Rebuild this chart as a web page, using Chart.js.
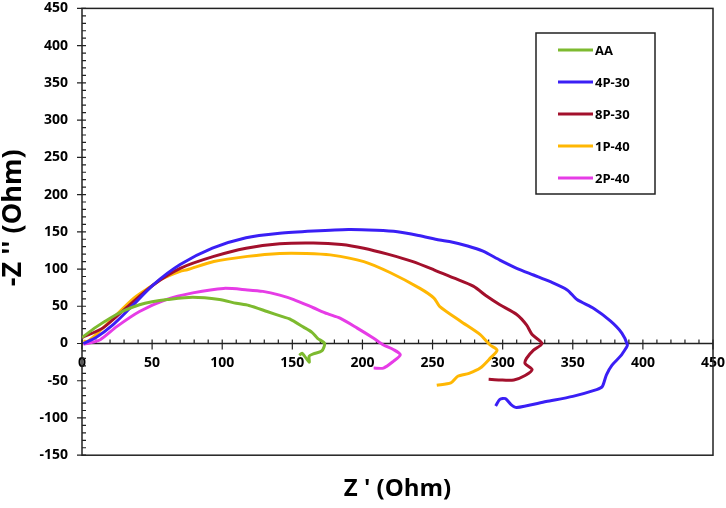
<!DOCTYPE html>
<html>
<head>
<meta charset="utf-8">
<script src="https://cdn.jsdelivr.net/npm/chart.js@4.4.1/dist/chart.umd.min.js"></script>
<style>
  html, body { margin: 0; padding: 0; background: #fff; }
  .wrap { width: 726px; height: 508px; }
</style>
</head>
<body>
<div class="wrap"><canvas class="js-chart" width="726" height="508"></canvas></div>
<script>
const ctx = document.querySelector(".js-chart").getContext("2d");

const SERIES_NAMES = ["AA", "4P-30", "8P-30", "1P-40", "2P-40"];
const SERIES_COLORS = ["#7dba2f", "#3a1ff5", "#a3102c", "#ffb703", "#e63ce6"];

const X_TICKS = [0, 50, 100, 150, 200, 250, 300, 350, 400, 450];
const Y_TICKS = [-150, -100, -50, 0, 50, 100, 150, 200, 250, 300, 350, 400, 450];

// Z' and -Z'', one pair of arrays per sample
const xAA = [0, 10, 20, 30, 41, 50, 61, 79, 98, 110, 119, 132, 143, 148, 158, 164, 168, 173, 171, 165, 162, 162, 157, 155];
const yAA = [8, 22, 34, 44, 52, 56, 59, 62, 59, 54, 51, 43, 36, 33, 22, 15, 7, 0, -10, -14, -17, -25, -13, -16];

const x4P30 = [1, 10, 22, 34, 51, 70, 93, 117, 141, 165, 190, 210, 225, 240, 255, 262, 275, 286, 298, 310, 322, 334, 346, 353, 365, 377, 385, 389, 388, 384, 378, 374, 371, 367, 350, 331, 310, 306, 302, 298, 295];
const y4P30 = [0, 8, 25, 47, 79, 106, 128, 142, 148, 151, 153, 152, 150, 145, 139, 137, 131, 124, 112, 101, 92, 83, 72, 59, 47, 30, 14, -2, -6, -17, -29, -42, -58, -62, -71, -78, -86, -82, -74, -75, -84];

const x8P30 = [0, 15, 34, 51, 70, 94, 117, 141, 165, 185, 201, 218, 236, 251, 265, 279, 289, 298, 310, 317, 321, 328, 322, 317, 316, 321, 316, 308, 298, 290];
const y8P30 = [8, 21, 52, 79, 101, 117, 128, 134, 135, 133, 128, 120, 110, 99, 88, 77, 63, 52, 39, 25, 12, 0, -9, -20, -27, -35, -43, -49, -49, -48];

const x1P40 = [1, 4, 10, 20, 37, 51, 56, 70, 75, 94, 118, 141, 160, 177, 201, 220, 241, 251, 255, 270, 284, 291, 296, 291, 284, 276, 268, 263, 253];
const y1P40 = [3, 3, 12, 30, 61, 79, 86, 97, 99, 110, 117, 121, 121, 119, 110, 95, 74, 61, 50, 30, 12, -2, -9, -20, -33, -40, -44, -53, -56];

const x2P40 = [1, 6, 13, 25, 41, 60, 79, 101, 118, 129, 141, 151, 165, 175, 184, 196, 208, 215, 222, 227, 222, 215, 208];
const y2P40 = [-1, 1, 5, 23, 43, 59, 68, 74, 72, 70, 65, 59, 48, 40, 34, 21, 7, -2, -8, -15, -24, -33, -33];

const SERIES_X = [xAA, x4P30, x8P30, x1P40, x2P40];
const SERIES_Y = [yAA, y4P30, y8P30, y1P40, y2P40];

const FONT = "'Open Sans', 'Liberation Sans', sans-serif";

const datasets = SERIES_NAMES.map((name, i) => ({
  label: name,
  data: SERIES_X[i].map((x, j) => ({ x, y: SERIES_Y[i][j] })),
  borderColor: SERIES_COLORS[i],
  backgroundColor: SERIES_COLORS[i],
  borderWidth: 3,
  pointRadius: 0,
  showLine: true,
  tension: 0.25,
  fill: false,
}));

// frame, axis lines and minor/major tick marks
const frameAndTicks = {
  id: "frameAndTicks",
  beforeDatasetsDraw(chart) {
    const { ctx, chartArea: a, scales: { x, y } } = chart;
    const x0 = x.getPixelForValue(0);
    const y0 = y.getPixelForValue(0);
    ctx.save();
    ctx.strokeStyle = "#222";
    ctx.lineWidth = 1.5;
    ctx.strokeRect(a.left, a.top, a.right - a.left, a.bottom - a.top);
    ctx.beginPath();
    ctx.moveTo(a.left, y0);
    ctx.lineTo(a.right, y0);
    ctx.stroke();
    ctx.lineWidth = 1.2;
    ctx.beginPath();
    for (let v = 0; v <= 450; v += 10) {
      const px = x.getPixelForValue(v);
      ctx.moveTo(px, y0 - 4);
      ctx.lineTo(px, v % 50 === 0 ? y0 + 6 : y0);
    }
    for (let v = -150; v <= 450; v += 10) {
      const py = y.getPixelForValue(v);
      ctx.moveTo(v % 50 === 0 ? x0 - 5 : x0, py);
      ctx.lineTo(x0 + 4, py);
    }
    ctx.stroke();
    ctx.restore();
  },
};

// boxed legend inside the plot, top right
const boxLegend = {
  id: "boxLegend",
  afterDraw(chart) {
    const { ctx } = chart;
    ctx.save();
    ctx.strokeStyle = "#222";
    ctx.lineWidth = 1.5;
    ctx.strokeRect(536, 33, 119, 161);
    ctx.font = "bold 13px " + FONT;
    ctx.textBaseline = "middle";
    ctx.fillStyle = "#000";
    chart.data.datasets.forEach((ds, i) => {
      const rowY = 50 + i * 32;
      ctx.strokeStyle = ds.borderColor;
      ctx.lineWidth = 3;
      ctx.beginPath();
      ctx.moveTo(558, rowY);
      ctx.lineTo(593, rowY);
      ctx.stroke();
      ctx.fillText(ds.label, 595, rowY + 1);
    });
    ctx.restore();
  },
};

new Chart(ctx, {
  type: "scatter",
  data: { datasets },
  plugins: [frameAndTicks, boxLegend],
  options: {
    responsive: false,
    animation: false,
    layout: { padding: { left: 0, right: 13, top: 0, bottom: 0 } },
    plugins: {
      legend: { display: false },
      tooltip: { enabled: false },
    },
    scales: {
      x: {
        type: "linear",
        position: { y: 0 },
        min: 0,
        max: 450,
        afterBuildTicks: (scale) => { scale.ticks = X_TICKS.map((value) => ({ value })); },
        ticks: {
          autoSkip: false,
          maxRotation: 0,
          padding: 0,
          color: "#000",
          font: { family: FONT, size: 14, weight: "bold" },
        },
        grid: { display: true, drawOnChartArea: false, drawTicks: true, tickLength: 11, color: "rgba(0,0,0,0)" },
        border: { display: false },
      },
      x2: {
        type: "linear",
        position: "bottom",
        min: 0,
        max: 450,
        ticks: { display: false },
        grid: { display: false, drawTicks: false },
        border: { display: false },
        title: {
          display: true,
          text: "Z ' (Ohm)",
          color: "#000",
          font: { family: FONT, size: 24, weight: "bold" },
          padding: { top: 20, bottom: 4 },
        },
      },
      y: {
        type: "linear",
        position: "left",
        min: -150,
        max: 450,
        afterFit: (scale) => { scale.width = 82; },
        afterBuildTicks: (scale) => { scale.ticks = Y_TICKS.map((value) => ({ value })); },
        ticks: {
          autoSkip: false,
          padding: 0,
          color: "#000",
          font: { family: FONT, size: 14, weight: "bold" },
        },
        grid: { display: true, drawOnChartArea: false, drawTicks: true, tickLength: 14, color: "rgba(0,0,0,0)" },
        border: { display: false },
        title: {
          display: true,
          text: "    -Z '' (Ohm)",
          color: "#000",
          font: { family: FONT, size: 27, weight: "bold", lineHeight: 1 },
          padding: { top: 0, bottom: 0 },
        },
      },
    },
  },
});
</script>
</body>
</html>
